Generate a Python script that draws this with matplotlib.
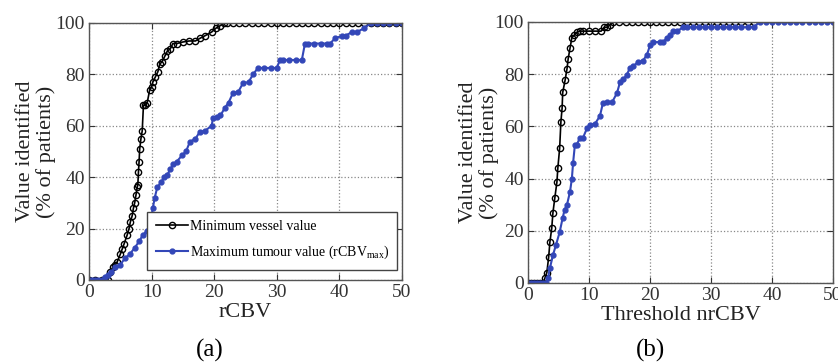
import matplotlib
matplotlib.use('Agg')
import matplotlib.pyplot as plt

# (a) rCBV: minimum vessel value
a_vessel_x = [0, 1, 2, 3, 3.4, 3.8, 4.2, 4.5, 5, 5.3, 5.6, 6.1, 6.4, 6.6, 6.9, 7.1, 7.3, 7.5, 7.7,
              7.8, 7.9, 8.0, 8.1, 8.3, 8.5, 8.7, 9.0, 9.3, 9.7, 10.0, 10.2, 10.6, 11.0, 11.3, 11.7,
              12.1, 12.5, 13.0, 13.4, 14, 15, 16, 17, 17.7, 18.5, 19.6, 20.3, 21, 21.5,
              22, 23, 24, 25, 26, 27, 28, 29, 30, 31, 32, 33, 34, 35, 36, 37, 38, 39, 40,
              41, 42, 43, 44, 45, 46, 47, 48, 49, 50]
a_vessel_y = [0, 0, 0, 0, 3, 5, 6, 7, 10, 12, 14, 17.5, 20, 22.5, 25, 28, 30, 33, 36,
              37, 42, 46, 51, 55, 58, 68, 68, 69, 74, 75, 77, 79, 81, 84, 85,
              87, 89, 90, 92, 92, 92.6, 93, 93, 94, 95, 96.5, 98, 99, 100,
              100, 100, 100, 100, 100, 100, 100, 100, 100, 100, 100, 100, 100, 100, 100, 100, 100, 100, 100,
              100, 100, 100, 100, 100, 100, 100, 100, 100, 100]

# (a) rCBV: maximum tumour value
a_tumour_x = [0, 0.5, 1, 1.5, 2, 2.5, 3, 3.5, 4.2, 5, 5.8, 6.5, 7.3, 8, 8.6, 9.2, 9.7, 10.0, 10.2,
              10.5, 10.9, 11.5, 12, 12.5, 13, 13.4, 14, 14.9, 15.5, 16.1, 17, 17.7, 18.5, 19.6,
              19.8, 20.5, 21, 21.7, 22.3, 23, 23.8, 24.6, 25.5, 26.2, 27, 28, 29, 30, 30.5, 31,
              32, 33, 34, 34.5, 35, 36, 37, 38, 38.5, 39.3, 40.4, 41, 42, 42.8, 44, 45, 46, 47,
              48, 49, 50]
a_tumour_y = [0, 0, 0, 0, 0, 1, 2, 3, 5, 6, 8.6, 10, 12.5, 15, 17.5, 19, 21, 25, 28,
              32, 36, 38, 40, 41, 43, 45, 46, 48.6, 50, 53.7, 55, 57.6, 58, 60,
              63, 63.5, 64, 67, 69, 72.8, 73, 76.6, 77, 80, 82.5, 82.5, 82.5, 82.5, 85.6, 85.6,
              85.6, 85.6, 85.6, 92, 92, 92, 92, 92, 92, 94, 95, 95, 96.5, 96.5, 98, 100, 100, 100,
              100, 100, 100]

# (b) threshold nrCBV: minimum vessel value
b_vessel_x = [0, 0.5, 1, 1.5, 2, 2.5, 2.8, 3.1, 3.4, 3.6, 3.9, 4.1, 4.4, 4.75, 4.9, 5.2, 5.4, 5.6,
              5.7, 6.1, 6.4, 6.6, 6.9, 7.2, 7.6, 8.0, 8.5, 9, 10, 11, 12, 12.5, 13, 13.5, 14,
              15, 16, 17, 18, 19, 20, 21, 22, 23, 24, 25, 26, 27, 28, 29, 30, 31, 32, 33, 34,
              35, 36, 37]
b_vessel_y = [0, 0, 0, 0, 0, 0, 2, 4, 10, 15.7, 21, 27, 32.5, 38.7, 44, 51.7, 61.7, 67,
              73, 77.8, 82, 86, 90, 94, 95, 96, 96.5, 96.5, 96.5, 96.5, 96.5, 98, 98, 99, 100,
              100, 100, 100, 100, 100, 100, 100, 100, 100, 100, 100, 100, 100, 100, 100, 100, 100, 100, 100, 100,
              100, 100, 100]

# (b) threshold nrCBV: maximum tumour value
b_tumour_x = [0, 0.5, 1, 1.5, 2, 2.5, 3, 3.3, 3.6, 4.1, 4.6, 5.2, 5.7, 6.0, 6.4, 6.9, 7.2, 7.4, 7.7,
              8, 8.5, 9, 9.7, 10.2, 11, 11.8, 12.3, 13, 13.8, 14.6, 15.1, 15.6, 16.2, 16.7, 17.3,
              18, 18.8, 19.5, 20, 20.5, 21.6, 22.2, 22.8, 23.3, 23.8, 24.5, 25.4, 26, 27, 28, 29,
              30, 31, 32, 33, 34, 35, 36, 37, 38, 39, 40, 41, 42, 43, 44, 45, 46, 47, 48, 49, 50]
b_tumour_y = [0, 0, 0, 0, 0, 0, 0, 2, 5.7, 10.7, 14.6, 19.5, 25, 28, 30, 35, 40, 46, 53,
              53, 55.5, 55.5, 59.4, 60.5, 61, 64, 69, 69.3, 69.3, 72.8, 77, 78, 79.7, 82.4, 83,
              84.7, 85, 87.4, 91, 92.3, 92.3, 92.3, 94, 95, 96.5, 96.5, 98, 98, 98, 98, 98,
              98, 98, 98, 98, 98, 98, 98, 98, 100, 100, 100, 100, 100, 100, 100, 100, 100, 100, 100, 100, 100]

vessel_label = 'Minimum vessel value'
tumour_label = r'Maximum tumour value (rCBV$_{\mathregular{max}}$)'
ylabel = 'Value identified\n(% of patients)'

plt.rcParams['font.family'] = ['Liberation Serif', 'DejaVu Serif']
plt.rcParams['mathtext.fontset'] = 'custom'
plt.rcParams['mathtext.rm'] = 'Liberation Serif'

blue = '#3347b8'
fig = plt.figure(figsize=(8.38, 3.63), dpi=100)
ax_a = fig.add_axes([0.1062, 0.2287, 0.3735, 0.708])
ax_b = fig.add_axes([0.630, 0.2204, 0.364, 0.719])


def style_axes(ax, xlabel):
    ax.set_xlim(0, 50)
    ax.set_ylim(0, 100)
    ax.set_xticks([0, 10, 20, 30, 40, 50])
    ax.set_yticks([0, 20, 40, 60, 80, 100])
    ax.grid(True, linestyle=':', color='#888888', linewidth=0.9)
    ax.tick_params(direction='in', length=4, top=True, right=True, labelsize=14,
                   colors='#333333', pad=3)
    for s in ax.spines.values():
        s.set_color('#555555')
        s.set_linewidth(1.0)
    ax.set_xlabel(xlabel, fontsize=16, labelpad=1, color='#222222')
    ax.set_ylabel(ylabel, fontsize=16, color='#222222', linespacing=1.1)


ax_a.plot(a_vessel_x, a_vessel_y, '-', color='black', lw=1.2, marker='o', ms=4.5,
          mfc='none', mec='black', mew=1.0, label=vessel_label)
ax_a.plot(a_tumour_x, a_tumour_y, '-', color=blue, lw=1.5, marker='o', ms=3.5,
          mfc=blue, mec=blue, label=tumour_label)
style_axes(ax_a, 'rCBV')
ax_a.yaxis.set_label_coords(-0.105, 0.5)
leg = ax_a.legend(loc='lower right', bbox_to_anchor=(0.985, 0.04), fontsize=10,
                  frameon=True, fancybox=False, edgecolor='#444444', framealpha=1,
                  handlelength=2.3, borderpad=0.6, labelspacing=0.8, handletextpad=0.15,
                  borderaxespad=0)
leg.get_frame().set_linewidth(1.0)

ax_b.plot(b_vessel_x, b_vessel_y, '-', color='black', lw=1.2, marker='o', ms=4.5,
          mfc='none', mec='black', mew=1.0)
ax_b.plot(b_tumour_x, b_tumour_y, '-', color=blue, lw=1.5, marker='o', ms=3.5,
          mfc=blue, mec=blue)
style_axes(ax_b, 'Threshold nrCBV')
ax_b.yaxis.set_label_coords(-0.095, 0.5)

fig.text(210 / 838, 1 - 350 / 363, '(a)', fontsize=18, ha='center', va='center')
fig.text(650 / 838, 1 - 350 / 363, '(b)', fontsize=18, ha='center', va='center')

fig.savefig('out.png', dpi=100)
